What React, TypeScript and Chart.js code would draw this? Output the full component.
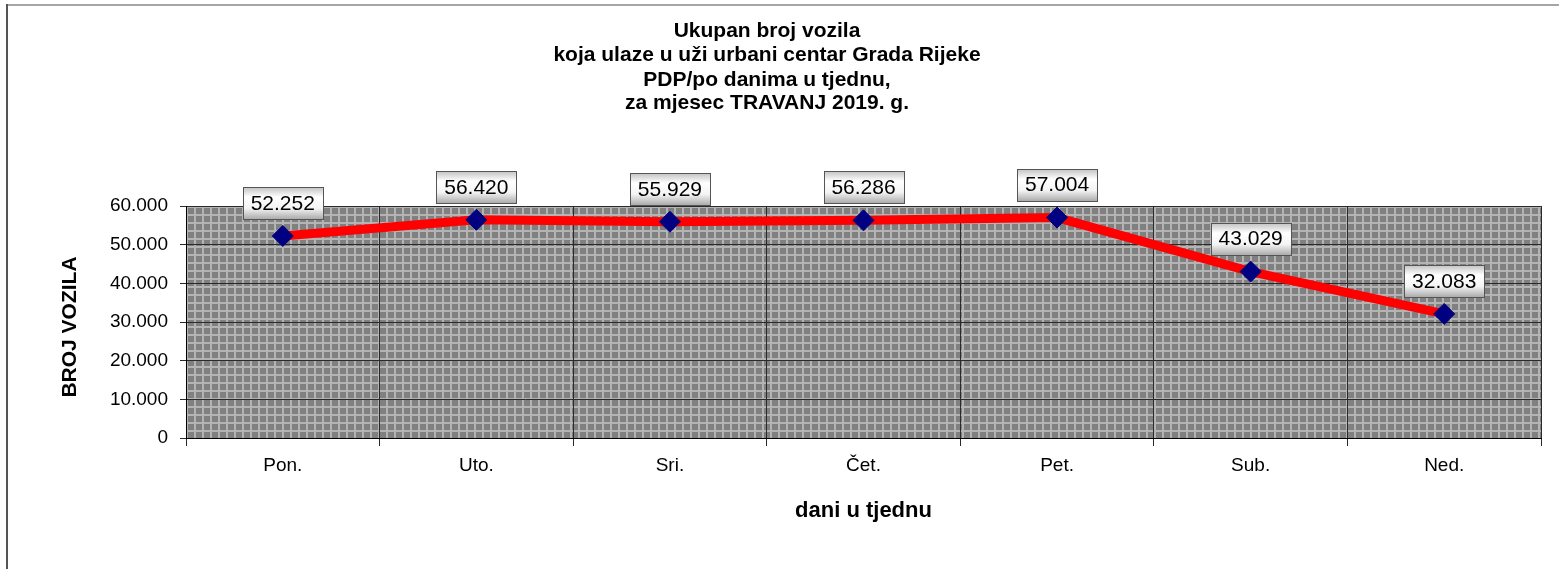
import React, { useEffect, useRef } from "react";
import { Chart, registerables } from "chart.js";

Chart.register(...registerables);

const days = ["Pon.", "Uto.", "Sri.", "Čet.", "Pet.", "Sub.", "Ned."];
const vehicles = [52252, 56420, 55929, 56286, 57004, 43029, 32083];
const titleLines = [
  "Ukupan broj vozila",
  "koja ulaze u uži urbani centar Grada Rijeke",
  "PDP/po danima u tjednu,",
  "za mjesec TRAVANJ 2019. g.",
];
const xTitle = "dani u tjednu";
const yTitle = "BROJ VOZILA";

const FONT = "'Liberation Sans', Arial, Helvetica, sans-serif";

function fmt(v: number): string {
  const s = Math.round(v).toString();
  return s.replace(/\B(?=(\d{3})+(?!\d))/g, ".");
}

function makePattern(ctx: CanvasRenderingContext2D): CanvasPattern | string {
  const c = document.createElement("canvas");
  c.width = 8;
  c.height = 8;
  const p = c.getContext("2d");
  if (!p) return "#8a8a8a";
  p.fillStyle = "#b4b4b4";
  p.fillRect(0, 0, 8, 8);
  p.fillStyle = "#808080";
  p.fillRect(2, 2, 6, 6);
  return ctx.createPattern(c, "repeat") || "#8a8a8a";
}

const decorPlugin = {
  id: "decor",
  beforeDraw(chart: any) {
    const ctx = chart.ctx as CanvasRenderingContext2D;
    const a = chart.chartArea;
    ctx.save();
    ctx.fillStyle = "#ffffff";
    ctx.fillRect(0, 0, chart.width, chart.height);
    // frame
    ctx.fillStyle = "#a6a6a6";
    ctx.fillRect(6, 4, chart.width - 6, 2);
    ctx.fillStyle = "#555555";
    ctx.fillRect(6, 4, 2, chart.height - 4);
    // plot background pattern
    const pat = makePattern(ctx);
    ctx.translate(a.left, a.top);
    ctx.fillStyle = pat as any;
    ctx.fillRect(0, 0, a.right - a.left, a.bottom - a.top);
    ctx.restore();

    // titles
    ctx.save();
    ctx.fillStyle = "#000000";
    ctx.textAlign = "center";
    ctx.textBaseline = "middle";
    ctx.font = `bold 21px ${FONT}`;
    const ys = [31.5, 55.5, 80, 103.5];
    titleLines.forEach((t, i) => ctx.fillText(t, 767, ys[i]));
    ctx.font = `bold 22px ${FONT}`;
    ctx.fillText(xTitle, (a.left + a.right) / 2, 511);
    ctx.font = `bold 21px ${FONT}`;
    ctx.translate(70, (a.top + a.bottom) / 2 + 5);
    ctx.rotate(-Math.PI / 2);
    ctx.fillText(yTitle, 0, 0);
    ctx.restore();
  },
  afterDatasetsDraw(chart: any) {
    const ctx = chart.ctx as CanvasRenderingContext2D;
    const meta = chart.getDatasetMeta(0);
    const data = chart.data.datasets[0].data as number[];
    ctx.save();
    ctx.font = `21px ${FONT}`;
    ctx.textAlign = "center";
    ctx.textBaseline = "middle";
    meta.data.forEach((pt: any, i: number) => {
      const label = fmt(data[i]);
      const w = Math.round(ctx.measureText(label).width + 16);
      const h = 32;
      const cx = pt.x;
      const cy = pt.y - 33;
      const x0 = Math.round(cx - w / 2) + 0.5;
      const y0 = Math.round(cy - h / 2) + 0.5;
      const g = ctx.createLinearGradient(0, y0, 0, y0 + h);
      g.addColorStop(0, "#c4c4c4");
      g.addColorStop(0.3, "#ffffff");
      g.addColorStop(0.65, "#f4f4f4");
      g.addColorStop(1, "#a8a8a8");
      ctx.fillStyle = g;
      ctx.fillRect(x0, y0, w, h);
      ctx.strokeStyle = "#555555";
      ctx.lineWidth = 1;
      ctx.strokeRect(x0, y0, w, h);
      ctx.fillStyle = "#000000";
      ctx.fillText(label, cx, cy + 1);
    });
    ctx.restore();
  },
};

export default function App() {
  const ref = useRef<HTMLCanvasElement | null>(null);

  useEffect(() => {
    document.body.style.margin = "0";
    const canvas = ref.current;
    if (!canvas) return;
    const chart = new Chart(canvas, {
      type: "line",
      data: {
        labels: days,
        datasets: [
          {
            data: vehicles,
            borderColor: "#ff0000",
            borderWidth: 9,
            backgroundColor: "#000080",
            pointStyle: "rectRot",
            pointRadius: 10.5,
            pointBackgroundColor: "#000080",
            pointBorderColor: "#000080",
            pointBorderWidth: 1,
            tension: 0,
            fill: false,
          },
        ],
      },
      options: {
        responsive: false,
        animation: false,
        devicePixelRatio: 1,
        layout: { padding: { left: 0, top: 206, right: 18, bottom: 0 } },
        plugins: {
          legend: { display: false },
          title: { display: false },
          tooltip: { enabled: false },
        },
        scales: {
          x: {
            type: "category",
            offset: true,
            grid: {
              offset: true,
              color: "#2a2a2a",
              lineWidth: 1,
              drawTicks: true,
              tickLength: 8,
              tickColor: "#2a2a2a",
            },
            border: { display: true, color: "#000000", width: 1 },
            ticks: {
              color: "#000000",
              font: { family: FONT, size: 19 },
              padding: 8,
              maxRotation: 0,
            },
            afterFit(scale: any) {
              scale.height = 569 - 438;
            },
          },
          y: {
            min: 0,
            max: 60000,
            grid: {
              color: "#2a2a2a",
              lineWidth: 1,
              drawTicks: true,
              tickLength: 6,
              tickColor: "#2a2a2a",
            },
            border: { display: true, color: "#000000", width: 1 },
            ticks: {
              stepSize: 10000,
              color: "#000000",
              font: { family: FONT, size: 19 },
              padding: 12,
              callback: (v: any) => fmt(Number(v)),
            },
            afterFit(scale: any) {
              scale.width = 186;
            },
          },
        },
      },
      plugins: [decorPlugin],
    });
    return () => chart.destroy();
  }, []);

  return (
    <div style={{ width: 1559, height: 569 }}>
      <canvas ref={ref} width={1559} height={569} style={{ display: "block" }} />
    </div>
  );
}
